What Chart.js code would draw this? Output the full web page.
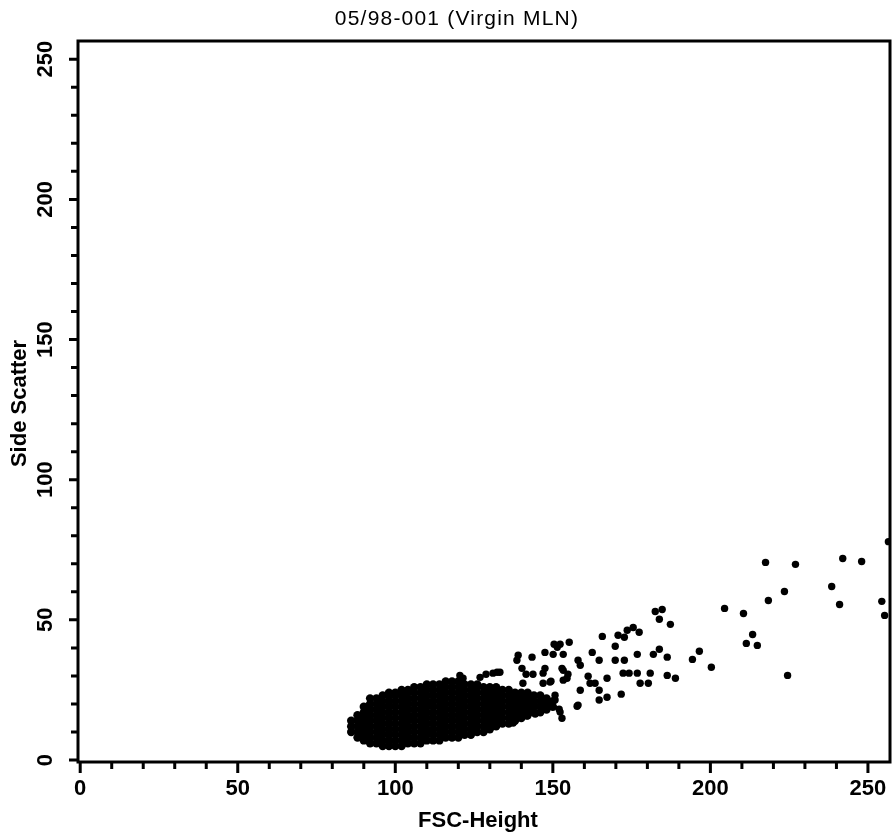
<!DOCTYPE html>
<html lang="en">
<head>
<meta charset="UTF-8">
<title>05/98-001 (Virgin MLN)</title>
<script src="https://cdn.jsdelivr.net/npm/chart.js@4"></script>
<style>
  html, body { margin: 0; padding: 0; background: #fff; }
  canvas { display: block; }
</style>
</head>
<body>
<canvas id="scatterChart" width="895" height="838"></canvas>
<script>
const chartTitle = "05/98-001 (Virgin MLN)";
const xTitle = "FSC-Height";
const yTitle = "Side Scatter";
const majorTicks = [0, 50, 100, 150, 200, 250];
const minorTicks = [10, 20, 30, 40, 60, 70, 80, 90, 110, 120, 130, 140, 160, 170, 180, 190, 210, 220, 230, 240];

// dense population, read column by column: FSC value and the SSC values stacked in it
const clusterX = [86, 88, 90, 92, 94, 96, 98, 100, 102, 104, 106, 108, 110, 112, 114, 116, 118,
  120, 122, 124, 126, 128, 130, 132, 134, 136, 138, 140, 142, 144, 146, 148, 150];
const clusterY = [
  [10, 12, 14],
  [8, 10, 12, 14, 16],
  [7, 9, 11, 13, 15, 17, 19],
  [6, 8, 10, 12, 14, 16, 18, 20, 22],
  [6, 8, 10, 12, 14, 16, 18, 20, 22],
  [5, 7, 9, 11, 13, 15, 17, 19, 21, 23],
  [5, 7, 9, 11, 13, 15, 17, 19, 21, 23, 24],
  [5, 7, 9, 11, 13, 15, 17, 19, 21, 23, 24],
  [5, 7, 9, 11, 13, 15, 17, 19, 21, 23, 25],
  [6, 8, 10, 12, 14, 16, 18, 20, 22, 24, 25],
  [6, 8, 10, 12, 14, 16, 18, 20, 22, 24, 26],
  [6, 8, 10, 12, 14, 16, 18, 20, 22, 24, 26],
  [7, 9, 11, 13, 15, 17, 19, 21, 23, 25, 27],
  [7, 9, 11, 13, 15, 17, 19, 21, 23, 25, 27],
  [7, 9, 11, 13, 15, 17, 19, 21, 23, 25, 27],
  [8, 10, 12, 14, 16, 18, 20, 22, 24, 26, 28],
  [8, 10, 12, 14, 16, 18, 20, 22, 24, 26, 28],
  [8, 10, 12, 14, 16, 18, 20, 22, 24, 26, 28],
  [9, 11, 13, 15, 17, 19, 21, 23, 25, 27],
  [9, 11, 13, 15, 17, 19, 21, 23, 25, 27],
  [10, 12, 14, 16, 18, 20, 22, 24, 26, 27],
  [10, 12, 14, 16, 18, 20, 22, 24, 26],
  [11, 13, 15, 17, 19, 21, 23, 25, 26],
  [12, 14, 16, 18, 20, 22, 24, 26],
  [13, 15, 17, 19, 21, 23, 25],
  [13, 15, 17, 19, 21, 23, 25],
  [14, 16, 18, 20, 22, 24],
  [15, 17, 19, 21, 23, 24],
  [16, 18, 20, 22, 24],
  [17, 19, 21, 23],
  [17, 19, 21, 23],
  [18, 20, 22],
  [19, 21]
];

// scattered events outside the main population
const eventX = [217.5, 227, 242, 248, 256.5, 223.5, 218.4, 238.5, 241, 254.4, 255.3,
  204.5, 210.5, 213.4, 211.4, 214.9, 224.5, 200.3, 196.5, 194.3,
  182.5, 184.7, 183.8, 187.3, 173.6, 175.5, 177.4, 170.7, 172.7, 165.7, 169.8,
  162.5, 164.7, 169.8, 172.7, 176.8, 181.9, 183.8, 186.3,
  172.3, 174.2, 176.8, 180.9, 186.3, 188.9, 177.7, 180.3, 167.2, 161.2, 161.8, 163.4,
  158.7, 164.7, 164.7, 167.2, 171.7, 158, 155.2, 152.3, 150.4, 151.4, 153.3, 147.5, 150.1, 143.4,
  138.6, 139, 158, 158.7, 152.9, 154.8, 153.3, 147.5, 146.9, 149.4, 146.9, 150.7, 150.7, 152,
  143.7, 141.5, 140.2, 133.2, 131, 128.8, 157.7, 152.3, 152.9, 144.4, 141.8, 137.4,
  153.3, 154.5, 120.5, 121.5, 126.9, 132.3, 140.5, 149.1];
const eventY = [70.5, 69.8, 71.9, 70.8, 77.9, 60.1, 56.9, 61.9, 55.5, 56.6, 51.6,
  54.1, 52.3, 44.8, 41.6, 40.9, 30.2, 33.1, 38.8, 35.9,
  53, 53.7, 50.2, 48.4, 46.3, 47.3, 45.6, 44.5, 43.8, 44.1, 40.6,
  38.4, 35.6, 35.6, 35.6, 37.7, 37.7, 39.5, 36.7,
  31, 31, 31, 31, 30.2, 29.2, 27.4, 27.4, 29.2, 29.9, 27.4, 27.4,
  24.9, 24.9, 21.4, 22.4, 23.5, 19.6, 42, 41.3, 41.3, 40.2, 37.7, 38.4, 37.7, 36.7,
  35.6, 37.4, 35.6, 33.8, 32.7, 30.6, 28.5, 32.7, 31, 28.1, 27.4, 23.1, 21.4, 18.1,
  30.6, 30.6, 32.7, 31.3, 31, 30.6, 19.2, 17.1, 14.9, 16.4, 15.7, 13.2,
  32, 29.2, 30.2, 29.2, 29.5, 31.3, 27.4, 27.8];

const clusterPoints = [];
clusterX.forEach((x, i) => {
  clusterY[i].forEach(y => clusterPoints.push({ x: x, y: y }));
});
const eventPoints = eventX.map((x, i) => ({ x: x, y: eventY[i] }));

const labelFont = '"Liberation Sans", Arial, Helvetica, sans-serif';

// frame, ticks, rotated y labels and titles, all placed through the chart scales
const axisFrame = {
  id: 'axisFrame',
  afterDatasetsDraw(chart) {
    const { ctx, chartArea: area, scales: { x, y } } = chart;
    ctx.save();
    ctx.strokeStyle = '#000';
    ctx.lineWidth = 3;
    ctx.strokeRect(area.left, area.top, area.right - area.left, area.bottom - area.top);

    ctx.beginPath();
    majorTicks.forEach(v => {
      const px = x.getPixelForValue(v);
      ctx.moveTo(px, area.bottom);
      ctx.lineTo(px, area.bottom + 11);
      const py = y.getPixelForValue(v);
      ctx.moveTo(area.left, py);
      ctx.lineTo(area.left - 9, py);
    });
    minorTicks.forEach(v => {
      const px = x.getPixelForValue(v);
      ctx.moveTo(px, area.bottom);
      ctx.lineTo(px, area.bottom + 7);
      const py = y.getPixelForValue(v);
      ctx.moveTo(area.left, py);
      ctx.lineTo(area.left - 7, py);
    });
    ctx.stroke();

    ctx.fillStyle = '#000';
    ctx.textAlign = 'center';
    ctx.textBaseline = 'middle';
    ctx.font = 'bold 22px ' + labelFont;
    majorTicks.forEach(v => {
      ctx.fillText(String(v), x.getPixelForValue(v), area.bottom + 27);
      ctx.save();
      ctx.translate(area.left - 32, y.getPixelForValue(v));
      ctx.rotate(-Math.PI / 2);
      ctx.fillText(String(v), 0, 0);
      ctx.restore();
    });

    ctx.font = 'bold 22px ' + labelFont;
    ctx.fillText(xTitle, (area.left + area.right) / 2 - 6, 821);
    ctx.save();
    ctx.translate(20, (area.top + area.bottom) / 2 + 2);
    ctx.rotate(-Math.PI / 2);
    ctx.fillText(yTitle, 0, 0);
    ctx.restore();

    ctx.font = '21px ' + labelFont;
    ctx.letterSpacing = '1.2px';
    ctx.fillText(chartTitle, 457, 19);
    ctx.restore();
  }
};

const ctx = document.getElementById('scatterChart').getContext('2d');
const scatterChart = new Chart(ctx, {
  type: 'scatter',
  data: {
    datasets: [{
      label: 'Main population',
      data: clusterPoints,
      pointStyle: 'circle',
      pointRadius: 4.2,
      backgroundColor: '#000',
      borderWidth: 0,
      clip: 0
    }, {
      label: 'Events',
      data: eventPoints,
      pointStyle: 'circle',
      pointRadius: 3.7,
      backgroundColor: '#000',
      borderWidth: 0,
      clip: 0
    }]
  },
  options: {
    responsive: false,
    animation: false,
    events: [],
    layout: { padding: { left: 78, right: 5, top: 41, bottom: 76 } },
    plugins: {
      legend: { display: false },
      title: { display: false },
      tooltip: { enabled: false }
    },
    scales: {
      x: { type: 'linear', min: -0.7, max: 257, display: false },
      y: { type: 'linear', min: -0.7, max: 256.5, display: false }
    }
  },
  plugins: [axisFrame]
});
</script>
</body>
</html>
